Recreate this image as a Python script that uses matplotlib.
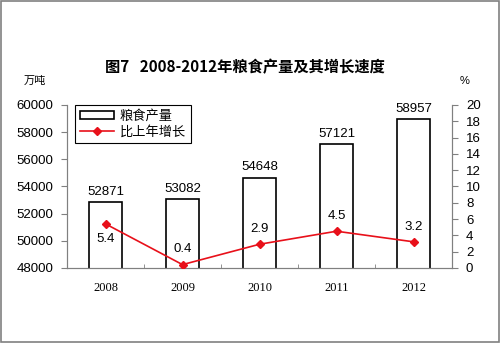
import matplotlib
matplotlib.use('Agg')
import matplotlib.pyplot as plt
import matplotlib.patches as mpatches
import matplotlib.lines as mlines
import numpy as np

plt.rcParams['font.family'] = ['Liberation Sans', 'Noto Sans CJK SC', 'DejaVu Sans']

years = ['2008', '2009', '2010', '2011', '2012']
output = [52871, 53082, 54648, 57121, 58957]   # 万吨
growth = [5.4, 0.4, 2.9, 4.5, 3.2]             # %

CJK = ['Noto Sans CJK SC', 'DejaVu Sans']
GRAY = '#808080'
RED = '#e8101a'

fig = plt.figure(figsize=(5, 3.43), dpi=100)
fig.patches.append(mpatches.Rectangle((0.002, 0.003), 0.996, 0.994, transform=fig.transFigure,
                                      fill=False, edgecolor=GRAY, linewidth=1.2))

ax = fig.add_axes([0.134, 0.219, 0.770, 0.475])
x = np.arange(len(years))

ax.bar(x, output, width=0.42, color='white', edgecolor='black', linewidth=1.2, zorder=2)
for xi, v in zip(x, output):
    ax.annotate(str(v), (xi, v), xytext=(0, 3), textcoords='offset points',
                ha='center', va='bottom', fontsize=9.5)

ax.set_xlim(-0.5, 4.5)
ax.set_ylim(48000, 60000)
ax.set_yticks(np.arange(48000, 60001, 2000))
ax.tick_params(axis='y', labelsize=9.5, length=4, color=GRAY, pad=6)
ax.set_xticks(x)
ax.set_xticklabels(years, fontfamily='Liberation Serif', fontsize=9)
ax.tick_params(axis='x', length=0, pad=10)
ax.set_xticks(x[:-1] + 0.5, minor=True)
ax.tick_params(axis='x', which='minor', direction='in', length=3, color=GRAY)
for side in ['left', 'right', 'bottom']:
    ax.spines[side].set_color(GRAY)
ax.spines['top'].set_visible(False)

ax2 = ax.twinx()
ax2.plot(x, growth, color=RED, linewidth=1.2, marker='D', markersize=4.5, zorder=3)
for xi, v in zip(x, growth):
    dy = -11 if xi == 0 else 11
    ax2.annotate(f'{v:.1f}', (xi, v), xytext=(0, dy), textcoords='offset points',
                 ha='center', va='center', fontsize=9.5)
ax2.set_ylim(0, 20)
ax2.set_yticks(np.arange(0, 21, 2))
ax2.tick_params(axis='y', labelsize=9.5, length=4, color=GRAY, pad=6)
for side in ['left', 'right', 'bottom']:
    ax2.spines[side].set_color(GRAY)
ax2.spines['top'].set_visible(False)

# legend combines the bar and the line series
bar_handle = mpatches.Patch(facecolor='white', edgecolor='black', linewidth=1.2)
line_handle = mlines.Line2D([], [], color=RED, linewidth=1.2, marker='D', markersize=4.5)
leg = ax2.legend([bar_handle, line_handle], ['粮食产量', '比上年增长'], loc='upper left',
                 bbox_to_anchor=(0.022, 1.0), borderaxespad=0, prop={'family': CJK, 'size': 9.5},
                 fancybox=False, edgecolor='black', framealpha=1,
                 handlelength=2.6, handleheight=0.6, borderpad=0.35, labelspacing=0.25,
                 handletextpad=0.4)
leg.get_frame().set_linewidth(0.8)

fig.text(0.49, 0.805, '图7   2008-2012年粮食产量及其增长速度', ha='center', va='center',
         fontsize=11, fontweight='bold', family=CJK)
fig.text(0.07, 0.765, '万吨', ha='center', va='center', fontsize=8, family=CJK)
fig.text(0.93, 0.765, '%', ha='center', va='center', fontsize=8)

fig.savefig('out.png', dpi=100)
